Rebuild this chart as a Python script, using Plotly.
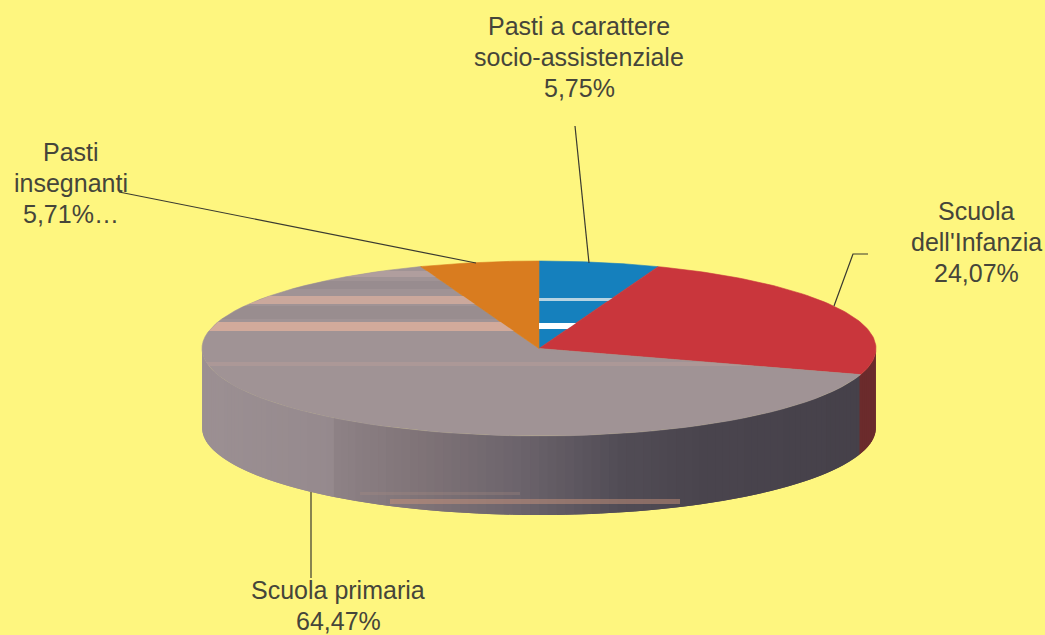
import numpy as np
import plotly.graph_objects as go

# ---- data ----
categories = ["Pasti a carattere<br>socio-assistenziale", "Scuola<br>dell'Infanzia",
              "Scuola primaria", "Pasti<br>insegnanti"]
shares = [5.75, 24.07, 64.47, 5.71]
share_labels = ["5,75%", "24,07%", "64,47%", "5,71%…"]
top_colors = ["#1580BD", "#C9363C", "#A09395", "#D97C1F"]

# ---- styling / geometry of the tilted disc ----
BG = "#FEF67F"
TEXT = "#45453A"
CX, CY, RX, RY, DEPTH = 539, 348.5, 337, 87.5, 79
wall_pos = [202, 330, 334, 420, 520, 620, 700, 870]
wall_rgb = [(156, 144, 147), (150, 138, 142), (142, 130, 134), (128, 116, 120),
            (108, 100, 108), (82, 77, 86), (74, 69, 78), (70, 65, 74)]
red_wall = "#6B2B2C"

def ex(p):
    return CX + RX * np.sin(p)

def ey(p, dz=0.0):
    return CY - RY * np.cos(p) + dz

fig = go.Figure()

def poly(xs, ys, color, opacity=1.0, lw=0.6):
    fig.add_trace(go.Scatter(x=list(xs), y=list(ys), mode="lines", fill="toself",
                             fillcolor=color, opacity=opacity,
                             line=dict(width=lw, color=color),
                             hoverinfo="skip", showlegend=False))

# angles of the slice boundaries, clockwise from the top
edges = np.deg2rad(np.concatenate([[0], np.cumsum(shares)]) / sum(shares) * 360)

def wall_color(x):
    c = [np.interp(x, wall_pos, [r[i] for r in wall_rgb]) for i in range(3)]
    return "rgb(%d,%d,%d)" % tuple(int(v) for v in c)

# side wall: visible from rightmost point round the front to leftmost point;
# each strip runs on under the next so no seams show
wall_edges = np.linspace(np.pi / 2, 3 * np.pi / 2, 121)
step = wall_edges[1] - wall_edges[0]
for a, b in zip(wall_edges[:-1], wall_edges[1:]):
    m = (a + b) / 2
    col = red_wall if m < edges[2] else wall_color(ex(m))
    t = np.linspace(a, min(b + step, wall_edges[-1]), 6)
    xs = np.concatenate([ex(t), ex(t[::-1])])
    ys = np.concatenate([ey(t), ey(t[::-1], DEPTH)])
    poly(xs, ys, col, lw=0)

# top faces
slice_polys = []
for i, color in enumerate(top_colors):
    t = np.linspace(edges[i], edges[i + 1], 80)
    xs = np.concatenate([[CX], ex(t), [CX]])
    ys = np.concatenate([[CY], ey(t), [CY]])
    slice_polys.append((xs, ys))
    poly(xs, ys, color)

def span(i, y):
    xs, ys = slice_polys[i]
    cross = []
    for x0, y0, x1, y1 in zip(xs[:-1], ys[:-1], xs[1:], ys[1:]):
        if (y0 - y) * (y1 - y) <= 0 and y0 != y1:
            cross.append(x0 + (y - y0) / (y1 - y0) * (x1 - x0))
    return min(cross), max(cross)

# scan streaks on the top faces: slice index, y0, y1, colour, opacity
streaks = [
    (2, 271, 277, "#B6A2A2", 0.7), (2, 281, 289, "#8F8588", 0.45),
    (2, 296, 304, "#D6AE9E", 0.8), (2, 306, 319, "#8E8486", 0.4),
    (2, 322, 331, "#DBAE9C", 0.85), (2, 362, 366, "#C4A49A", 0.35),
    (0, 298, 301, "#C9DDE6", 0.9), (0, 323, 329, "#FFFFFF", 1.0),
]
for i, y0, y1, col, op in streaks:
    a0, b0 = span(i, y0)
    a1, b1 = span(i, y1)
    poly([a0, b0, b1, a1], [y0, y0, y1, y1], col, op, lw=0)

# streaks on the wall
wall_streaks = [(390, 680, 499, 504, "#C7917A", 0.5), (360, 520, 492, 495, "#B08E84", 0.25)]
for x0, x1, y0, y1, col, op in wall_streaks:
    poly([x0, x1, x1, x0], [y0, y0, y1, y1], col, op, lw=0)

# leader lines
leaders = [([575, 589], [126, 263]),
           ([119, 476], [192, 263]),
           ([868, 853, 834], [254, 254, 306]),
           ([311, 311], [492, 578])]
for lx, ly in leaders:
    fig.add_trace(go.Scatter(x=lx, y=ly, mode="lines", line=dict(color="#3A3A30", width=1.2),
                             hoverinfo="skip", showlegend=False))

# labels: centre x and centre y of the first line of text
label_pos = [(579, 26), (976, 211), (338, 590), (71, 152)]
LINE = 30.8
for cat, lab, (lx, ly) in zip(categories, share_labels, label_pos):
    for k, line in enumerate(cat.split("<br>") + [lab]):
        fig.add_annotation(x=lx, y=ly + k * LINE, xref="x", yref="y", text=line, showarrow=False,
                           xanchor="center", yanchor="middle", align="center",
                           font=dict(family="Liberation Sans, Arial, sans-serif", size=25, color=TEXT))

fig.update_layout(
    width=1045, height=635, margin=dict(l=0, r=0, t=0, b=0),
    paper_bgcolor=BG, plot_bgcolor=BG, showlegend=False,
    xaxis=dict(range=[0, 1045], visible=False, fixedrange=True),
    yaxis=dict(range=[635, 0], visible=False, fixedrange=True),
)
fig.write_html("out.html", config={"displayModeBar": False},
               post_script="document.body.style.margin='0';document.body.style.overflow='hidden';")
